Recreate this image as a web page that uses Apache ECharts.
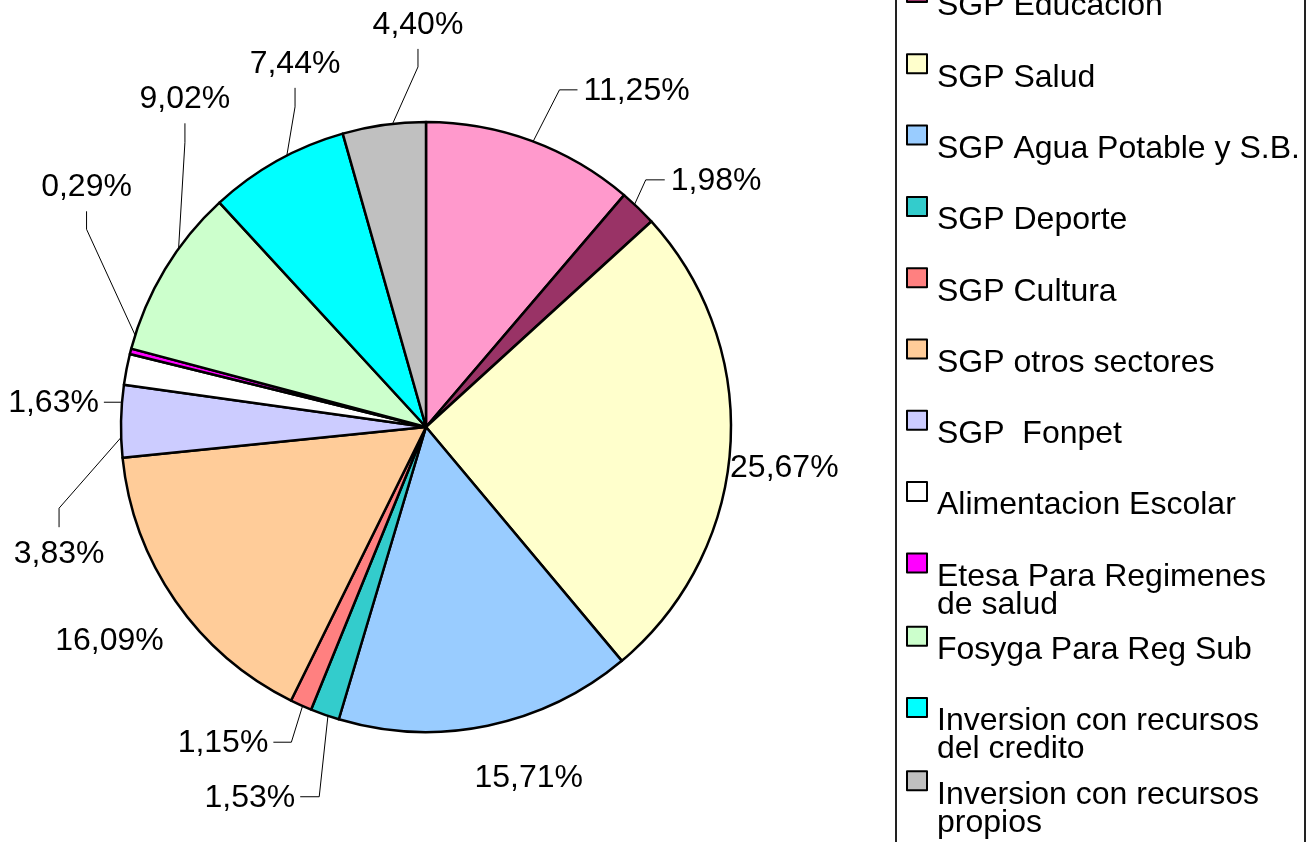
<!DOCTYPE html>
<html><head><meta charset="utf-8">
<script src="https://cdn.jsdelivr.net/npm/echarts@6/dist/echarts.min.js"></script>
<style>html,body{margin:0;padding:0;background:#fff}#c{width:1312px;height:842px}</style>
</head><body><div id="c"></div>
<script>
// ---- data ----
const categories = ['Funcionamiento', 'SGP Educacion', 'SGP Salud', 'SGP Agua Potable y S.B.', 'SGP Deporte', 'SGP Cultura', 'SGP otros sectores', 'SGP  Fonpet', 'Alimentacion Escolar', 'Etesa Para Regimenes de salud', 'Fosyga Para Reg Sub', 'Inversion con recursos del credito', 'Inversion con recursos propios'];
const shares = [11.25, 1.98, 25.67, 15.71, 1.53, 1.15, 16.09, 3.83, 1.63, 0.29, 9.02, 7.44, 4.40];
const sliceColors = ['#FF99CC', '#993366', '#FFFFCC', '#99CCFF', '#33CCCC', '#FF8080', '#FFCC99', '#CCCCFF', '#FFFFFF', '#FF00FF', '#CCFFCC', '#00FFFF', '#C0C0C0'];

// ---- label styling: offset of each label centre from its slice's outer-arc midpoint, leader side/leg ----
const labelOffset = [[105, -50], [78, -27], [54, 21], [41, 52], [-75, 83], [-78, 38], [-66, 40], [-62, 133], [-73, 34], [-44, -164], [20, -170], [18, -97], [34, -100]];
const leader = [['left', 18], ['left', 19], null, null, ['right', 19], ['right', 18], null, ['top', 19], ['flat', 17], ['bottom', 18], ['bottom', 19], ['bottom', 19], ['bottom', 18]];

const FONT = "'Liberation Sans', Arial, sans-serif";
const chart = echarts.init(document.getElementById('c'), null, { renderer: 'canvas' });

function fmtPct(v) { return v.toFixed(2).replace('.', ',') + '%'; }

function placeLabel(params) {
  const i = params.dataIndex;
  const pts = params.labelLinePoints;
  if (!pts) return {};
  const p0 = pts[0], p1 = pts[1];
  let ux = p1[0] - p0[0], uy = p1[1] - p0[1];
  const d = Math.hypot(ux, uy) || 1; ux /= d; uy /= d;
  const cx = p0[0] + labelOffset[i][0], cy = p0[1] + labelOffset[i][1];
  const w = params.labelRect.width;
  const out = { x: cx, y: cy, align: 'center', verticalAlign: 'middle' };
  const L = leader[i];
  if (!L) { out.labelLinePoints = [[cx, cy], [cx, cy], [cx, cy]]; return out; }
  const start = [p0[0] - ux * 14, p0[1] - uy * 14];
  let attach, elbow;
  if (L[0] === 'left') { attach = [cx - w / 2 - 6, cy - 1]; elbow = [attach[0] - L[1], attach[1]]; }
  else if (L[0] === 'right' || L[0] === 'flat') { attach = [cx + w / 2 + 5, cy - 1]; elbow = [attach[0] + L[1], attach[1]]; }
  else if (L[0] === 'top') { attach = [cx, cy - 27]; elbow = [cx, attach[1] - L[1]]; }
  else { attach = [cx, cy + 24]; elbow = [cx, attach[1] + L[1]]; }
  out.labelLinePoints = L[0] === 'flat' ? [elbow, elbow, attach] : [start, elbow, attach];
  return out;
}

chart.setOption({
  animation: false,
  backgroundColor: '#fff',
  legend: {
    orient: 'vertical',
    left: 896, top: -144.8, height: 1200,
    padding: [10, 2, 40, 10],
    itemWidth: 20, itemHeight: 19, itemGap: -40.7,
    icon: 'rect',
    itemStyle: { borderColor: '#000', borderWidth: 2 },
    borderColor: '#222', borderWidth: 2, backgroundColor: '#fff',
    selectedMode: false,
    formatter: function (name) { return '{t|' + name + '}'; },
    textStyle: {
      fontFamily: FONT, fontSize: 32, color: '#000', lineHeight: 28,
      width: 366, height: 56, padding: [56, 0, 0, 5], overflow: 'break',
      backgroundColor: 'transparent',
      rich: { t: { fontFamily: FONT, fontSize: 32, color: '#000', lineHeight: 28 } }
    },
    data: categories
  },
  series: [{
    type: 'pie',
    center: [426, 427],
    radius: 305,
    startAngle: 90,
    clockwise: true,
    avoidLabelOverlap: false,
    silent: true,
    emphasis: { disabled: true },
    itemStyle: { borderColor: '#000', borderWidth: 2.5 },
    label: { show: true, position: 'outside', formatter: p => fmtPct(p.value), fontFamily: FONT, fontSize: 32, color: '#000' },
    labelLine: { show: true, length: 10, length2: 0, lineStyle: { color: '#000', width: 1 } },
    labelLayout: placeLabel,
    data: categories.map((n, i) => ({ name: n, value: shares[i], itemStyle: { color: sliceColors[i] } }))
  }]
});
</script>
</body></html>
